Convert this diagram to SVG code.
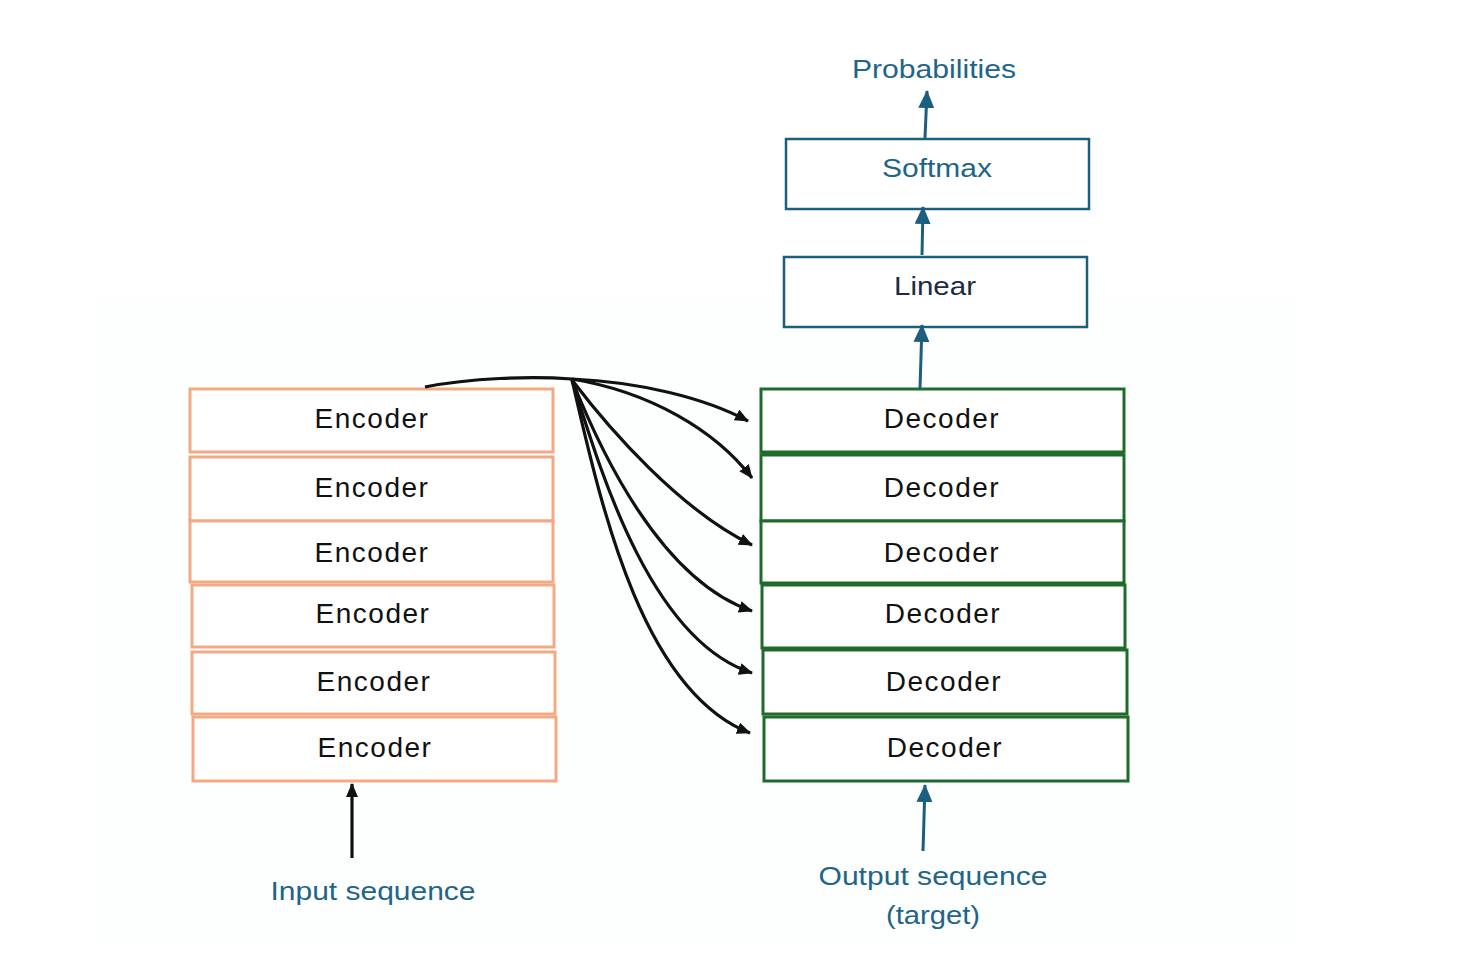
<svg xmlns="http://www.w3.org/2000/svg" width="1473" height="969" viewBox="0 0 1473 969">
<defs>
<style>
.enc{fill:#fff;stroke:#F2AA84;stroke-width:3}
.dec{fill:#fff;stroke:#1E6B2B;stroke-width:3}
.top{fill:#fff;stroke:#1B5E7E;stroke-width:2.5}
.lbl{font-family:"Liberation Sans",Arial,sans-serif;font-size:28px;fill:#111;text-anchor:middle;letter-spacing:1.5px}
.teal{font-family:"Liberation Sans",Arial,sans-serif;font-size:26px;fill:#1E6587;text-anchor:middle}
.blk{fill:none;stroke:#111;stroke-width:3.2}
.tl{fill:none;stroke:#1B5E7E;stroke-width:3}
</style>
<marker id="ab" markerUnits="userSpaceOnUse" markerWidth="14" markerHeight="12" refX="13" refY="6" orient="auto">
<path d="M0,0 L14,6 L0,12 z" fill="#111"/>
</marker>
<marker id="at" markerUnits="userSpaceOnUse" markerWidth="18" markerHeight="16" refX="17" refY="8" orient="auto">
<path d="M0,0 L18,8 L0,16 z" fill="#1B5E7E"/>
</marker>
</defs>
<rect x="0" y="0" width="1473" height="969" fill="#fff"/>
<rect x="97" y="295" width="1200" height="650" fill="#fdfefe"/>

<g id="prob"><text class="teal" x="934" y="78" textLength="164" lengthAdjust="spacingAndGlyphs">Probabilities</text></g>
<g id="softmax"><rect class="top" x="786" y="139" width="303" height="70"/><text class="teal" x="937" y="177" textLength="110" lengthAdjust="spacingAndGlyphs">Softmax</text></g>
<g id="linear"><rect class="top" x="784" y="257" width="303" height="70"/><text class="teal" x="935" y="295" style="fill:#1C2B45" textLength="82" lengthAdjust="spacingAndGlyphs">Linear</text></g>

<g id="enc1"><rect class="enc" x="190" y="389" width="363" height="63"/><text class="lbl" x="372" y="428">Encoder</text></g>
<g id="enc2"><rect class="enc" x="190" y="457" width="363" height="64"/><text class="lbl" x="372" y="497">Encoder</text></g>
<g id="enc3"><rect class="enc" x="190" y="521" width="363" height="61"/><text class="lbl" x="372" y="562">Encoder</text></g>
<g id="enc4"><rect class="enc" x="192" y="585" width="362" height="62"/><text class="lbl" x="373" y="623">Encoder</text></g>
<g id="enc5"><rect class="enc" x="192" y="652" width="363" height="62"/><text class="lbl" x="374" y="691">Encoder</text></g>
<g id="enc6"><rect class="enc" x="193" y="717" width="363" height="64"/><text class="lbl" x="375" y="757">Encoder</text></g>

<g id="dec1"><rect class="dec" x="761" y="389" width="363" height="63"/><text class="lbl" x="942" y="428">Decoder</text></g>
<g id="dec2"><rect class="dec" x="761" y="455" width="363" height="66"/><line x1="761" y1="454" x2="1124" y2="454" stroke="#1E6B2B" stroke-width="4"/><text class="lbl" x="942" y="497">Decoder</text></g>
<g id="dec3"><rect class="dec" x="761" y="521" width="363" height="62"/><text class="lbl" x="942" y="562">Decoder</text></g>
<g id="dec4"><rect class="dec" x="762" y="585" width="363" height="63"/><text class="lbl" x="943" y="623">Decoder</text></g>
<g id="dec5"><rect class="dec" x="763" y="650" width="364" height="64"/><text class="lbl" x="944" y="691">Decoder</text></g>
<g id="dec6"><rect class="dec" x="764" y="717" width="364" height="64"/><text class="lbl" x="945" y="757">Decoder</text></g>

<g id="input"><text class="teal" x="373" y="900" textLength="205" lengthAdjust="spacingAndGlyphs">Input sequence</text></g>
<g id="output"><text class="teal" x="933" y="885" textLength="229" lengthAdjust="spacingAndGlyphs">Output sequence</text><text class="teal" x="933" y="924" textLength="94" lengthAdjust="spacingAndGlyphs">(target)</text></g>

<g id="connectors">
<path class="tl" d="M925,138 L927,91" marker-end="url(#at)"/>
<path class="tl" d="M922,255 L923,207" marker-end="url(#at)"/>
<path class="tl" d="M920,388 L922,325" marker-end="url(#at)"/>
<path class="tl" d="M923,851 L925,785" marker-end="url(#at)"/>
<path class="blk" d="M352,858 L352,784" marker-end="url(#ab)"/>
<path class="blk" d="M425,387 C470,378 530,376 572,379"/>
<path class="blk" d="M572,379 C640,382 705,398 748,421" marker-end="url(#ab)"/>
<path class="blk" d="M572,379 C650,392 715,430 752,478" marker-end="url(#ab)"/>
<path class="blk" d="M572,380 C610,430 680,510 752,545" marker-end="url(#ab)"/>
<path class="blk" d="M572,380 C600,450 660,580 752,611" marker-end="url(#ab)"/>
<path class="blk" d="M572,380 C600,470 650,640 752,673" marker-end="url(#ab)"/>
<path class="blk" d="M572,380 C600,500 640,690 750,733" marker-end="url(#ab)"/>
</g>
</svg>
